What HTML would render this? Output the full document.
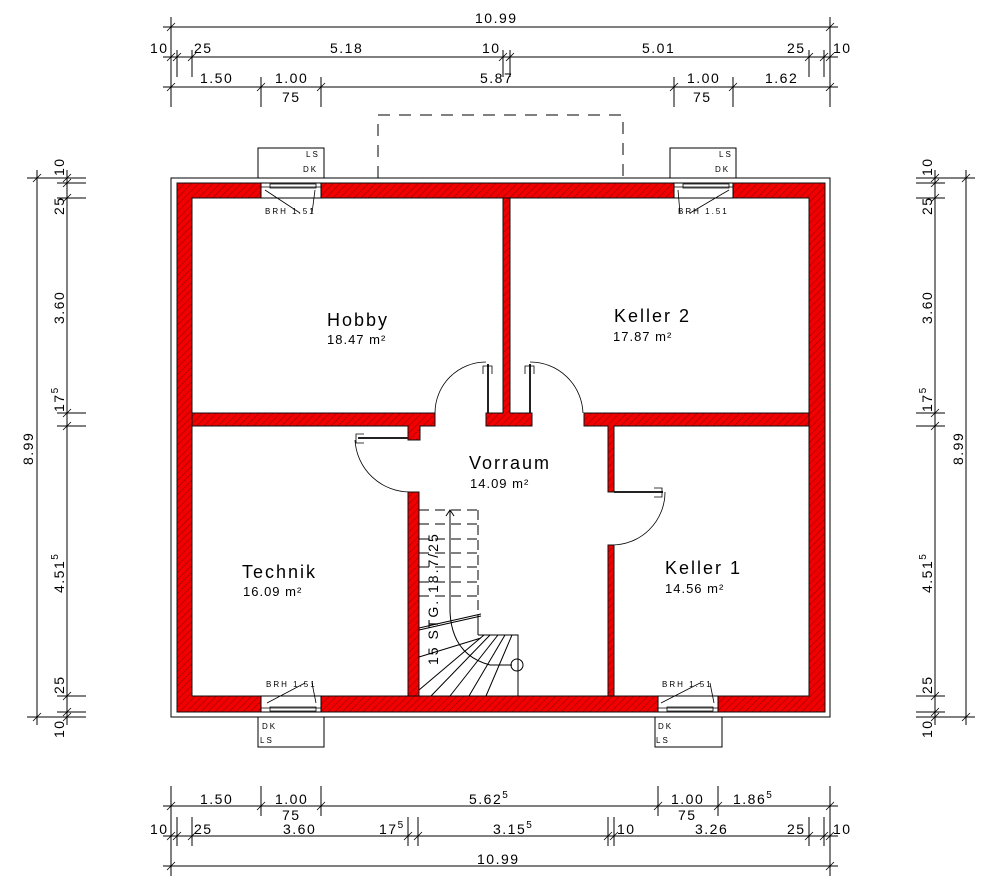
<!DOCTYPE html>
<html><head><meta charset="utf-8"><style>
html,body{margin:0;padding:0;background:#fff;width:1000px;height:888px;overflow:hidden}
svg{display:block}
.d{font-family:"Liberation Sans",sans-serif;font-size:14px;letter-spacing:1.5px;fill:#000}
.s{font-family:"Liberation Sans",sans-serif;font-size:8px;letter-spacing:2px;fill:#000}
.r{font-family:"Liberation Sans",sans-serif;font-size:18px;letter-spacing:2px;fill:#000}
.a{font-family:"Liberation Sans",sans-serif;font-size:13px;letter-spacing:1px;fill:#000}
</style></head><body>
<svg width="1000" height="888" viewBox="0 0 1000 888" xmlns="http://www.w3.org/2000/svg">
<defs>
<pattern id="h" width="5" height="5" patternUnits="userSpaceOnUse" patternTransform="rotate(45)">
<rect width="5" height="5" fill="#f00000"/><line x1="0" y1="0" x2="0" y2="5" stroke="#600" stroke-width="0.7"/>
</pattern>
</defs>
<g stroke="#000" stroke-width="1" fill="none">
<!-- top dims -->
<line x1="163" y1="27" x2="838" y2="27"/>
<line x1="163" y1="57" x2="838" y2="57"/>
<line x1="163" y1="87" x2="838" y2="87"/>
<line x1="171" y1="17" x2="171" y2="107"/><line x1="830" y1="17" x2="830" y2="107"/>
<line x1="177" y1="50" x2="177" y2="77"/><line x1="192" y1="50" x2="192" y2="77"/>
<line x1="503" y1="50" x2="503" y2="77"/><line x1="510" y1="50" x2="510" y2="77"/>
<line x1="809" y1="50" x2="809" y2="77"/><line x1="824" y1="50" x2="824" y2="77"/>
<line x1="261" y1="77" x2="261" y2="107"/><line x1="321" y1="77" x2="321" y2="107"/>
<line x1="674" y1="77" x2="674" y2="107"/><line x1="733" y1="77" x2="733" y2="107"/>
<!-- bottom dims -->
<line x1="163" y1="806" x2="838" y2="806"/>
<line x1="163" y1="836" x2="838" y2="836"/>
<line x1="163" y1="866" x2="838" y2="866"/>
<line x1="171" y1="786" x2="171" y2="876"/><line x1="830" y1="786" x2="830" y2="876"/>
<line x1="261" y1="786" x2="261" y2="816"/><line x1="321" y1="786" x2="321" y2="816"/>
<line x1="658" y1="786" x2="658" y2="816"/><line x1="718" y1="786" x2="718" y2="816"/>
<line x1="177" y1="817" x2="177" y2="846"/><line x1="192" y1="817" x2="192" y2="846"/>
<line x1="408" y1="817" x2="408" y2="846"/><line x1="418" y1="817" x2="418" y2="846"/>
<line x1="608" y1="817" x2="608" y2="846"/><line x1="614" y1="817" x2="614" y2="846"/>
<line x1="809" y1="817" x2="809" y2="846"/><line x1="824" y1="817" x2="824" y2="846"/>
<!-- left dims -->
<line x1="37" y1="170" x2="37" y2="725"/><line x1="67" y1="170" x2="67" y2="725"/>
<line x1="27" y1="178" x2="86" y2="178"/><line x1="27" y1="717" x2="86" y2="717"/>
<line x1="57" y1="183" x2="86" y2="183"/><line x1="57" y1="198" x2="86" y2="198"/>
<line x1="57" y1="413" x2="86" y2="413"/><line x1="57" y1="426" x2="86" y2="426"/>
<line x1="57" y1="696" x2="86" y2="696"/><line x1="57" y1="712" x2="86" y2="712"/>
<!-- right dims -->
<line x1="935" y1="170" x2="935" y2="725"/><line x1="966" y1="170" x2="966" y2="725"/>
<line x1="916" y1="178" x2="975" y2="178"/><line x1="916" y1="717" x2="975" y2="717"/>
<line x1="916" y1="183" x2="945" y2="183"/><line x1="916" y1="198" x2="945" y2="198"/>
<line x1="916" y1="413" x2="945" y2="413"/><line x1="916" y1="426" x2="945" y2="426"/>
<line x1="916" y1="696" x2="945" y2="696"/><line x1="916" y1="712" x2="945" y2="712"/>
</g>
<!-- ticks -->
<g stroke="#000" stroke-width="0.8">
<path d="M167 31l8-8M826 31l8-8M167 61l8-8M173 61l8-8M188 61l8-8M499 61l8-8M506 61l8-8M805 61l8-8M820 61l8-8M826 61l8-8M167 91l8-8M257 91l8-8M317 91l8-8M670 91l8-8M729 91l8-8M826 91l8-8"/>
<path d="M167 810l8-8M257 810l8-8M317 810l8-8M654 810l8-8M714 810l8-8M826 810l8-8M167 840l8-8M173 840l8-8M188 840l8-8M404 840l8-8M414 840l8-8M604 840l8-8M610 840l8-8M805 840l8-8M820 840l8-8M826 840l8-8M167 870l8-8M826 870l8-8"/>
<path d="M33 182l8-8M33 721l8-8M63 182l8-8M63 187l8-8M63 202l8-8M63 417l8-8M63 430l8-8M63 700l8-8M63 716l8-8M63 721l8-8"/>
<path d="M931 182l8-8M931 187l8-8M931 202l8-8M931 417l8-8M931 430l8-8M931 700l8-8M931 716l8-8M931 721l8-8M962 182l8-8M962 721l8-8"/>
</g>
<!-- dim text -->
<g class="d">
<text x="475" y="23">10.99</text>
<text x="150" y="53">10</text><text x="194" y="53">25</text><text x="330" y="53">5.18</text><text x="482" y="53">10</text>
<text x="642" y="53">5.01</text><text x="787" y="53">25</text><text x="833" y="53">10</text>
<text x="200" y="83">1.50</text><text x="275" y="83">1.00</text><text x="282" y="102">75</text><text x="480" y="83">5.87</text>
<text x="687" y="83">1.00</text><text x="693" y="102">75</text><text x="765" y="83">1.62</text>
<text x="200" y="804">1.50</text><text x="275" y="804">1.00</text><text x="282" y="820">75</text><text x="469" y="804">5.62<tspan dy="-6" font-size="10">5</tspan></text>
<text x="671" y="804">1.00</text><text x="678" y="820">75</text><text x="733" y="804">1.86<tspan dy="-6" font-size="10">5</tspan></text>
<text x="150" y="834">10</text><text x="194" y="834">25</text><text x="283" y="834">3.60</text><text x="379" y="834">17<tspan dy="-6" font-size="10">5</tspan></text>
<text x="493" y="834">3.15<tspan dy="-6" font-size="10">5</tspan></text><text x="617" y="834">10</text><text x="695" y="834">3.26</text><text x="787" y="834">25</text><text x="833" y="834">10</text>
<text x="477" y="864">10.99</text>
<text transform="translate(33,465) rotate(-90)">8.99</text>
<text transform="translate(64,176) rotate(-90)">10</text>
<text transform="translate(64,215) rotate(-90)">25</text>
<text transform="translate(64,324) rotate(-90)">3.60</text>
<text transform="translate(64,412) rotate(-90)">17<tspan dy="-6" font-size="10">5</tspan></text>
<text transform="translate(64,593) rotate(-90)">4.51<tspan dy="-6" font-size="10">5</tspan></text>
<text transform="translate(64,694) rotate(-90)">25</text>
<text transform="translate(64,738) rotate(-90)">10</text>
<text transform="translate(963,465) rotate(-90)">8.99</text>
<text transform="translate(932,176) rotate(-90)">10</text>
<text transform="translate(932,215) rotate(-90)">25</text>
<text transform="translate(932,324) rotate(-90)">3.60</text>
<text transform="translate(932,412) rotate(-90)">17<tspan dy="-6" font-size="10">5</tspan></text>
<text transform="translate(932,593) rotate(-90)">4.51<tspan dy="-6" font-size="10">5</tspan></text>
<text transform="translate(932,694) rotate(-90)">25</text>
<text transform="translate(932,738) rotate(-90)">10</text>
</g>
<!-- dashed outline -->
<path d="M378 178V115H623V178" fill="none" stroke="#000" stroke-dasharray="12,9"/>
<!-- frame -->
<rect x="171" y="178" width="659" height="539" fill="#fff" stroke="#000"/>
<!-- walls -->
<g fill="url(#h)" stroke="#111" stroke-width="1">
<path fill-rule="evenodd" d="M177 183H825V712H177Z M192 198V696H809V198Z"/>
<path d="M192 413H435V426H420V440H408V426H192Z"/>
<path d="M503 198H510V413H532V426H486V413H503Z"/>
<path d="M584 413H809V426H614V492H608V426H584Z"/>
<rect x="608" y="545" width="6" height="151"/>
<rect x="408" y="492" width="11" height="204"/>
</g>
<!-- windows -->
<g fill="#fff" stroke="#000" stroke-width="1">
<rect x="261" y="183" width="60" height="15"/><rect x="674" y="183" width="59" height="15"/>
<rect x="261" y="696" width="60" height="16"/><rect x="658" y="696" width="60" height="16"/>
<rect x="258" y="148" width="66" height="30"/><rect x="670" y="148" width="66" height="30"/>
<rect x="258" y="717" width="66" height="30"/><rect x="655" y="717" width="67" height="30"/>
</g>
<g stroke="#000" stroke-width="0.8" fill="none">
<path d="M261 187H321M270 184H316V188H270ZM674 187H733M683 184H729V188H683Z"/>
<path d="M261 708H321M270 707H316V711H270ZM658 708H718M667 707H713V711H667Z"/>
<path d="M265 190L300 213M315 190L312 213M729 190L690 213M678 190L680 213"/>
<path d="M267 703L305 683M316 703L312 683M661 703L700 683M714 703L710 683"/>
</g>
<g class="s">
<text x="306" y="157">LS</text><text x="303" y="172">DK</text><text x="719" y="157">LS</text><text x="715" y="172">DK</text>
<text x="265" y="214">BRH 1.51</text><text x="678" y="214">BRH 1.51</text>
<text x="266" y="687">BRH 1.51</text><text x="662" y="687">BRH 1.51</text>
<text x="262" y="729">DK</text><text x="260" y="743">LS</text><text x="658" y="729">DK</text><text x="656" y="743">LS</text>
</g>
<!-- doors -->
<g stroke="#000" stroke-width="0.8" fill="none">
<path d="M435 413A51 51 0 0 1 486 362"/>
<path d="M530 362A53 53 0 0 1 583 413"/>
<path d="M355 440A55 55 0 0 0 410 492"/>
<path d="M665 492A53 53 0 0 1 612 545"/>
</g>
<g stroke="#222" stroke-width="2" fill="none">
<line x1="488" y1="413" x2="488" y2="364"/><line x1="530" y1="413" x2="530" y2="364"/>
<line x1="408" y1="438" x2="358" y2="438"/><line x1="614" y1="492" x2="663" y2="492"/>
</g>
<g stroke="#000" stroke-width="0.8" fill="none">
<path d="M483 374V366H492V374M525 374V366H534V374M364 434H356V443H364M654 488H662V497H654"/>
</g>
<!-- stairs -->
<g stroke="#000" stroke-width="1" fill="none">
<path d="M419 510H478M419 524H478M419 539H478M419 553H478M419 567H478M419 582H478M419 596H478" stroke-dasharray="10,6"/>
<path d="M478 510V635" stroke-dasharray="10,5"/>
<path d="M478 635H518V696M478 635V625"/>
<path d="M419 630L481 616M419 628L481 614"/>
<path d="M419 657L481 638M419 690L484 635M431 696L490 635M450 696L498 635M469 696L505 635M486 696L512 635"/>
<path d="M450 510V612Q452 655 490 665H512"/>
<path d="M446 516L450 510L454 516"/>
<circle cx="517" cy="665" r="6"/>
</g>
<text class="a" transform="translate(438,665) rotate(-90)" style="font-size:14px;letter-spacing:2px">15 STG. 18.7/25</text>
<!-- room labels -->
<g>
<text class="r" x="327" y="326">Hobby</text><text class="a" x="327" y="344">18.47 m²</text>
<text class="r" x="614" y="322">Keller 2</text><text class="a" x="613" y="341">17.87 m²</text>
<text class="r" x="469" y="469">Vorraum</text><text class="a" x="470" y="488">14.09 m²</text>
<text class="r" x="242" y="578">Technik</text><text class="a" x="243" y="596">16.09 m²</text>
<text class="r" x="665" y="574">Keller 1</text><text class="a" x="665" y="593">14.56 m²</text>
</g>
</svg>
</body></html>
